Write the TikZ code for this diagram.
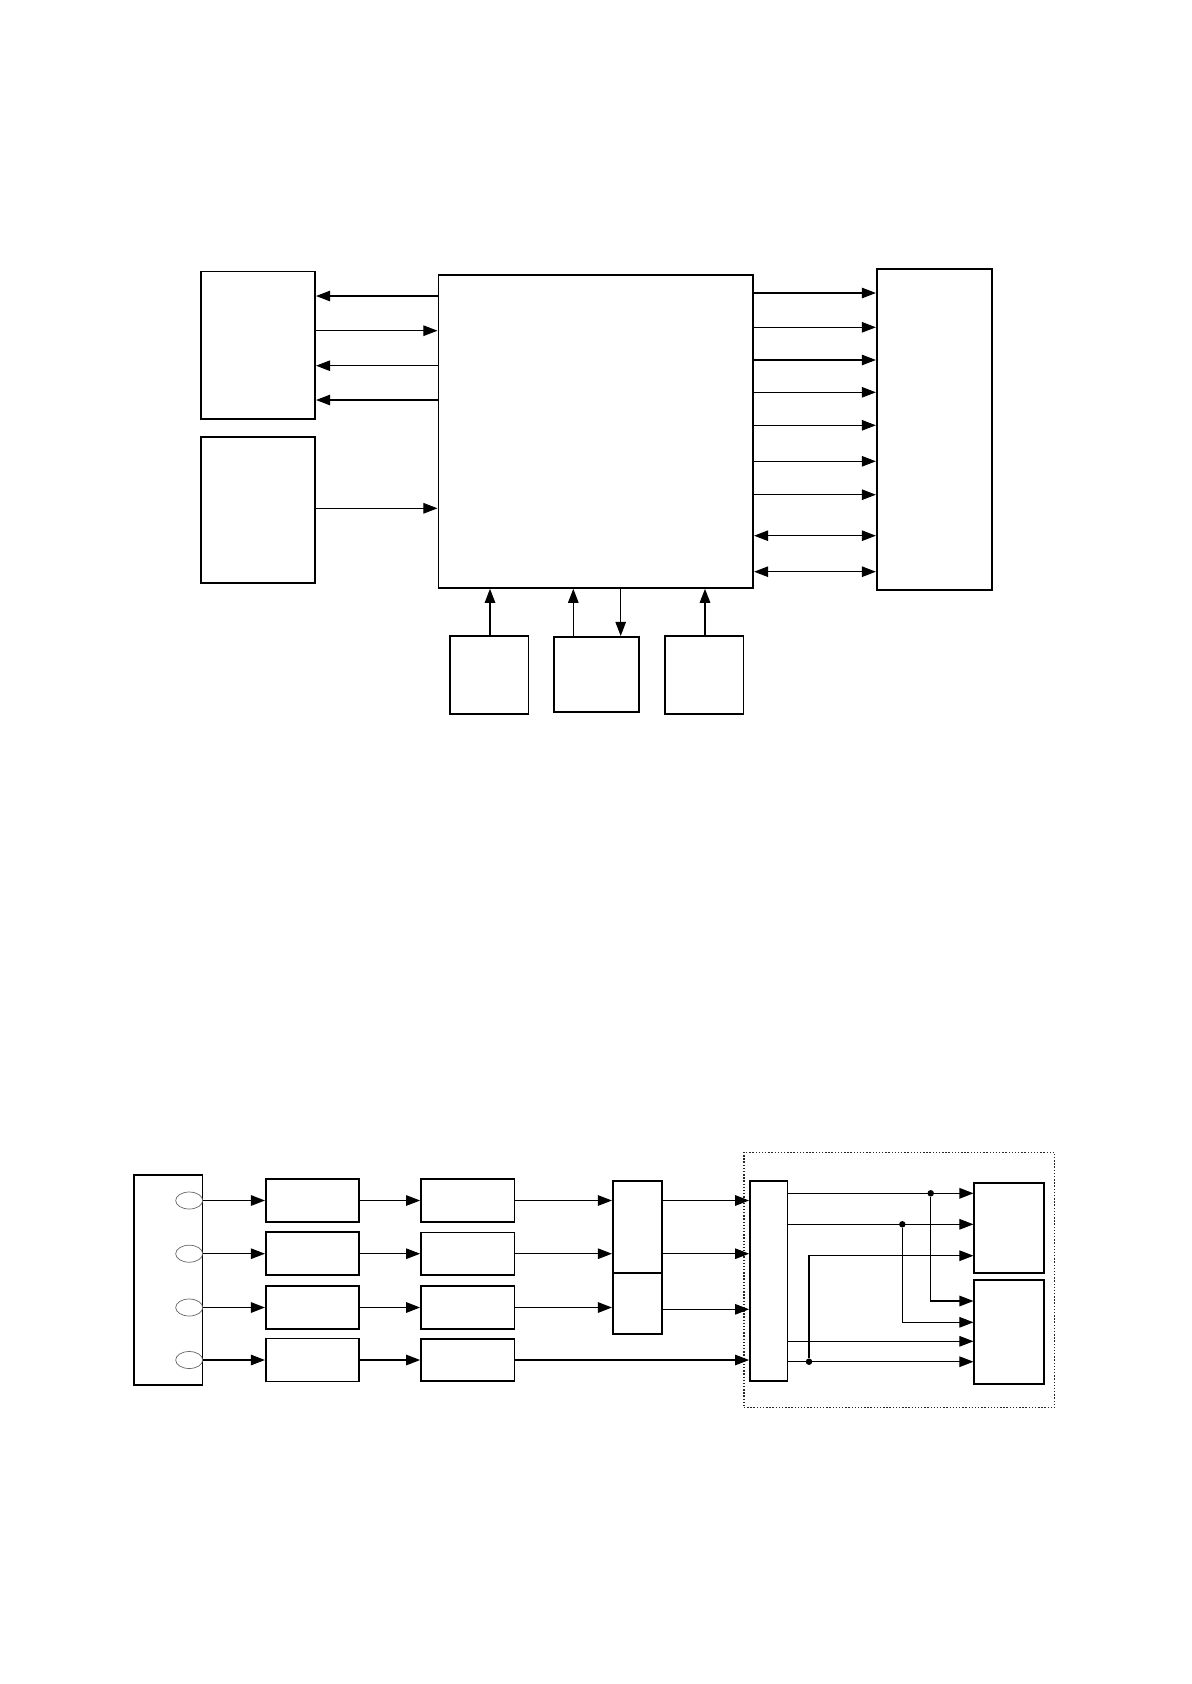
\documentclass[tikz,border=0pt]{standalone}
\usetikzlibrary{arrows.meta,shapes.geometric}

\begin{document}
\begin{tikzpicture}[x=0.02cm, y=-0.02cm,
    blk/.style={rectangle, draw=black, line width=0.95pt, inner sep=0pt},
    port/.style={ellipse, draw=black!60, thin, inner sep=0pt,
                 minimum width=0.54cm, minimum height=0.34cm},
    arr/.style={-{Triangle[length=8pt,width=6pt]}, semithick},
    arrb/.style={arr, thick},
    darr/.style={{Triangle[length=8pt,width=6pt]}-{Triangle[length=8pt,width=6pt]}, semithick},
    jdot/.style={circle, fill=black, inner sep=0pt, minimum size=0.13cm}
]
    \useasboundingbox (0,0) rectangle (1192,1684);

    % upper block diagram
    \node[blk, minimum width=2.29cm, minimum height=2.95cm] (upper) at (258,345.3) {};
    \node[blk, minimum width=2.29cm, minimum height=2.93cm] (lower) at (258,510) {};
    \node[blk, minimum width=6.30cm, minimum height=6.26cm] (cpu) at (595.8,431.5) {};
    \node[blk, minimum width=2.30cm, minimum height=6.42cm] (driver) at (934.2,429.5) {};
    \node[blk, minimum width=1.57cm, minimum height=1.57cm] (inA) at (489.2,675) {};
    \node[blk, minimum width=1.70cm, minimum height=1.51cm] (inB) at (596.5,674.5) {};
    \node[blk, minimum width=1.57cm, minimum height=1.57cm] (inC) at (704.2,675) {};

    \draw[arr] (cpu.west |- 0,296) -- (upper.east |- 0,296);
    \draw[arr] (upper.east |- 0,330.7) -- (cpu.west |- 0,330.7);
    \draw[arr] (cpu.west |- 0,365.7) -- (upper.east |- 0,365.7);
    \draw[arr] (cpu.west |- 0,400) -- (upper.east |- 0,400);
    \draw[arr] (lower.east |- 0,508.3) -- (cpu.west |- 0,508.3);

    \foreach \yy in {293,327.3,360,392.3,425.3,461.3,494.7}
        \draw[arr] (cpu.east |- 0,\yy) -- (driver.west |- 0,\yy);
    \foreach \yy in {535.7,571.7}
        \draw[darr] (cpu.east |- 0,\yy) -- (driver.west |- 0,\yy);

    \draw[arr] (inA.north -| 490,0) -- (cpu.south -| 490,0);
    \draw[arr] (inB.north -| 573.3,0) -- (cpu.south -| 573.3,0);
    \draw[arr] (cpu.south -| 620.7,0) -- (inB.north -| 620.7,0);
    \draw[arrb] (inC.north -| 705,0) -- (cpu.south -| 705,0);

    % lower signal chain
    \node[blk, minimum width=1.37cm, minimum height=4.20cm] (sensor) at (168.3,1280) {};
    \foreach \i/\yy in {1/1200.5,2/1253.7,3/1307.5,4/1360}{
        \node[port] (p\i) at (189.2,\yy) {};
        \node[blk, minimum width=1.87cm, minimum height=0.86cm] (filt\i) at (312.5,\yy) {};
        \node[blk, minimum width=1.87cm, minimum height=0.85cm] (amp\i) at (467.7,\yy) {};
    }
    \node[blk, minimum width=0.99cm, minimum height=1.85cm] (muxA) at (637.5,1227) {};
    \node[blk, minimum width=0.99cm, minimum height=1.21cm] (muxB) at (637.5,1303.7) {};
    \node[draw=black!85, densely dotted, line width=0.8pt, minimum width=6.21cm, minimum height=5.11cm] (frame) at (899.2,1280) {};
    \node[blk, minimum width=0.75cm, minimum height=4.01cm] (adc) at (768.7,1280.9) {};
    \node[blk, minimum width=1.40cm, minimum height=1.81cm] (outA) at (1009.3,1228) {};
    \node[blk, minimum width=1.40cm, minimum height=2.08cm] (outB) at (1009.3,1332) {};

    \draw[arrb] (p1.east) -- (filt1.west);
    \draw[arr] (p2.east) -- (filt2.west);
    \draw[arrb] (p3.east) -- (filt3.west);
    \draw[arrb] (p4.east) -- (filt4.west);

    \draw[arr] (filt1.east) -- (amp1.west);
    \draw[arr] (filt2.east) -- (amp2.west);
    \draw[arrb] (filt3.east) -- (amp3.west);
    \draw[arrb] (filt4.east) -- (amp4.west);

    \draw[arr] (amp1.east) -- (muxA.west |- amp1.east);
    \draw[arr] (amp2.east) -- (muxA.west |- amp2.east);
    \draw[arrb] (amp3.east) -- (muxB.west |- amp3.east);
    \draw[arr] (amp4.east) -- (adc.west |- amp4.east);

    \draw[arrb] (muxA.east |- amp1.east) -- (adc.west |- amp1.east);
    \draw[arr] (muxA.east |- amp2.east) -- (adc.west |- amp2.east);
    \draw[arr] (muxB.east |- 0,1309.3) -- (adc.west |- 0,1309.3);

    % fan-out to the two outputs
    \node[jdot] (j1) at (930.7,1193.3) {};
    \node[jdot] (j2) at (902.3,1224.3) {};
    \node[jdot] (j3) at (809,1361.7) {};
    \draw[arrb] (adc.east |- j1) -- (outA.west |- j1);
    \draw[arr] (adc.east |- j2) -- (outA.west |- j2);
    \draw[arr] (j3) |- (outA.west |- 0,1255.7);
    \draw[arrb] (j1) |- (outB.west |- 0,1301);
    \draw[arr] (j2) |- (outB.west |- 0,1322.3);
    \draw[arr] (adc.east |- 0,1341.3) -- (outB.west |- 0,1341.3);
    \draw[arr] (adc.east |- j3) -- (outB.west |- j3);
\end{tikzpicture}
\end{document}
